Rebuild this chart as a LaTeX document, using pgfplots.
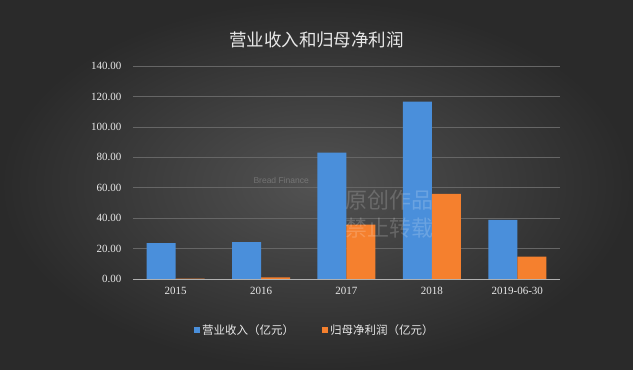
\documentclass[border=0pt]{standalone}
\usepackage{pgfplots}
\pgfplotsset{compat=1.18}
\usepackage{fontspec}
\setmainfont{Liberation Serif}
\newfontfamily\cjk{Noto Sans CJK SC}
\newfontfamily\lsans{Liberation Sans}
\definecolor{bgin}{HTML}{525252}
\definecolor{bgout}{HTML}{2A2A2A}
\definecolor{barblue}{HTML}{4A8FDB}
\definecolor{barorange}{HTML}{F5802E}
\definecolor{txt}{HTML}{E8E8E8}
\definecolor{gridc}{HTML}{666666}
\definecolor{axisc}{HTML}{B0B0B0}
\begin{document}
\begin{tikzpicture}[x=1pt,y=1pt]
\shade[inner color=bgin, outer color=bgout] (0,0) rectangle (633,370);
\node[text=txt, font=\cjk\fontsize{17.5}{20}\selectfont] at (316.5,330) {营业收入和归母净利润};
\begin{axis}[
  at={(133pt,91pt)}, anchor=origin,
  scale only axis, width=427pt, height=213pt,
  ybar=0pt, bar width=29pt,
  xmin=0, xmax=5, ymin=0, ymax=140,
  xtick={0.5,1.5,2.5,3.5,4.5},
  xticklabels={2015,2016,2017,2018,2019-06-30},
  ytick={0,20,...,140},
  axis x line*=bottom, axis y line*=left,
  x axis line style={draw=axisc, -},
  y axis line style={draw=none},
  major tick style={draw=none},
  ymajorgrids, grid style={draw=gridc, line width=0.6pt},
  tick label style={text=txt, font=\fontsize{11}{13}\selectfont},
  /pgf/number format/assume math mode=true,
  yticklabel style={xshift=-8pt},
  y tick label style={/pgf/number format/.cd, fixed, fixed zerofill, precision=2, /tikz/.cd},
  legend style={at={(0.426,-0.24)}, anchor=center, draw=none, fill=none,
    text=txt, font=\cjk\fontsize{11.5}{13}\selectfont, legend columns=2,
    /tikz/every even column/.append style={column sep=26pt}},
  legend image code/.code={\fill[#1] (0pt,-3pt) rectangle (6pt,3pt);},
]
\addplot[draw=none, fill=barblue] coordinates {(0.5,23.5) (1.5,24.2) (2.5,83) (3.5,116.6) (4.5,38.8)};
\addplot[draw=none, fill=barorange] coordinates {(0.5,0.3) (1.5,1.0) (2.5,35.7) (3.5,55.9) (4.5,14.7)};
\legend{营业收入（亿元）,归母净利润（亿元）}
\end{axis}
\node[text=white, opacity=0.18, font=\cjk\fontsize{22}{28}\selectfont, align=left, anchor=west] at (342,156) {原创作品\\禁止转载};
\node[text=white, opacity=0.22, font=\lsans\fontsize{8.5}{10}\selectfont, anchor=west] at (250,190) {Bread Finance};
\end{tikzpicture}
\end{document}
